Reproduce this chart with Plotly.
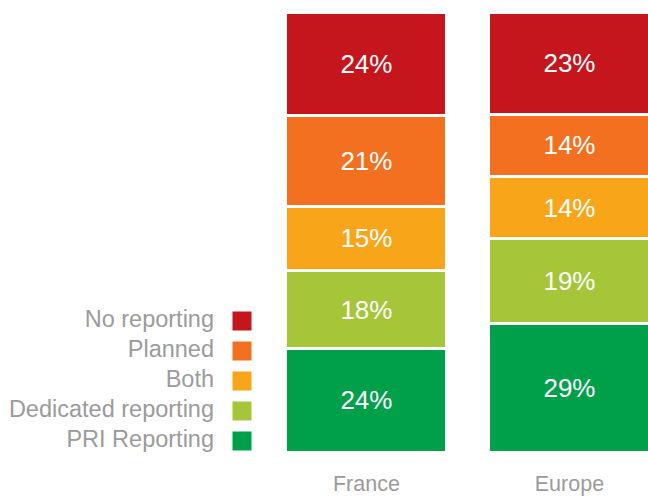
import plotly.graph_objects as go

categories = ["France", "Europe"]
series_names = ["PRI Reporting", "Dedicated reporting", "Both", "Planned", "No reporting"]
pri_reporting = [24, 29]
dedicated_reporting = [18, 19]
both = [15, 14]
planned = [21, 14]
no_reporting = [24, 23]
series_values = [pri_reporting, dedicated_reporting, both, planned, no_reporting]
colors = ["#00A04B", "#A5C639", "#F9A51A", "#F37021", "#C4161C"]

FONT = "Liberation Sans"
GREY = "#9b9b9b"

fig = go.Figure()
for name, vals, col in zip(series_names, series_values, colors):
    fig.add_trace(go.Bar(
        x=categories, y=vals, name=name,
        marker=dict(color=col, line=dict(color="white", width=3)),
        text=[f"{v}%" for v in vals],
        textposition="inside", insidetextanchor="middle",
        textfont=dict(color="white", size=26, family=FONT),
        hoverinfo="skip", showlegend=False,
    ))

# custom legend: text on the left, square on the right (top to bottom: reversed stack order)
leg_names = series_names[::-1]
leg_colors = colors[::-1]
leg_y = [321 + 30 * i for i in range(len(leg_names))]
fig.add_trace(go.Scatter(
    x=[242] * len(leg_names), y=leg_y, mode="markers",
    marker=dict(symbol="square", size=19, color=leg_colors),
    xaxis="x2", yaxis="y2", hoverinfo="skip", showlegend=False,
))
fig.add_trace(go.Scatter(
    x=[214] * len(leg_names), y=leg_y, mode="text", text=leg_names,
    textposition="middle left",
    textfont=dict(color=GREY, size=23.5, family=FONT),
    xaxis="x2", yaxis="y2", hoverinfo="skip", showlegend=False,
))

fig.update_layout(
    width=648, height=497,
    barmode="stack", barnorm="percent", bargap=0.207,
    margin=dict(l=0, r=0, t=12, b=45, autoexpand=False),
    plot_bgcolor="white", paper_bgcolor="white",
    xaxis=dict(range=[-1.805, 1.387], showgrid=False, zeroline=False, showline=False,
               ticks="", tickfont=dict(color=GREY, size=21.5, family=FONT),
               ticklabelstandoff=16, automargin=False, fixedrange=True),
    yaxis=dict(range=[0, 100], visible=False, automargin=False, fixedrange=True),
    xaxis2=dict(overlaying="x", anchor="y2", range=[0, 648], visible=False, fixedrange=True),
    yaxis2=dict(overlaying="y", anchor="x2", range=[452, 12], visible=False, fixedrange=True),
)

fig.write_html("out.html", post_script="document.body.style.margin='0';",
               config={"displayModeBar": False})
